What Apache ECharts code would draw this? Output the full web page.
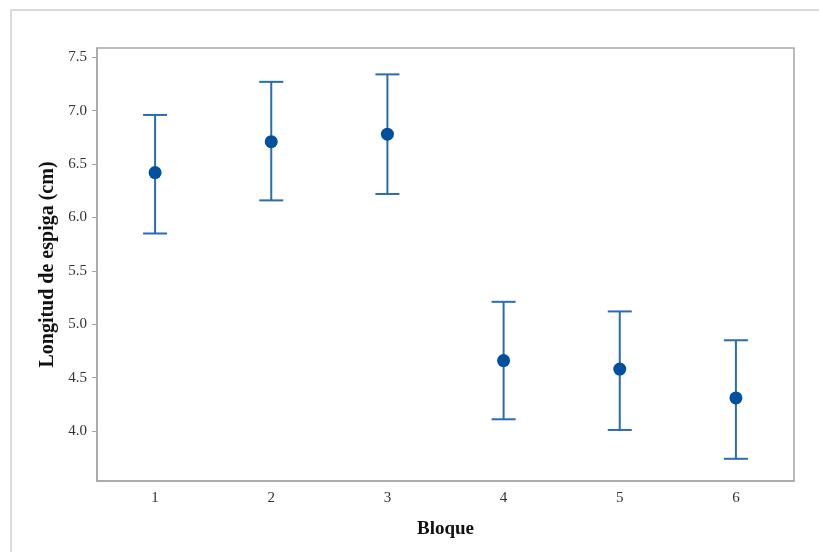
<!DOCTYPE html>
<html>
<head>
<meta charset="utf-8">
<script src="https://cdn.jsdelivr.net/npm/echarts@6/dist/echarts.min.js"></script>
<style>
html,body{margin:0;padding:0;background:#fff;}
#chart{width:819px;height:552px;}
</style>
</head>
<body>
<div id="chart"></div>
<script>
const categories = ['1', '2', '3', '4', '5', '6'];
const means = [6.42, 6.71, 6.78, 4.66, 4.58, 4.31];
const lower = [5.85, 6.16, 6.22, 4.11, 4.01, 3.74];
const upper = [6.96, 7.27, 7.34, 5.21, 5.12, 4.85];
const yTicks = [4.0, 4.5, 5.0, 5.5, 6.0, 6.5, 7.0, 7.5];

const serif = 'Liberation Serif';
const barColor = '#2a6cb4';
const dotColor = '#0050a0';
const axisGray = '#a6a6a6';

const errData = categories.map((c, i) => [i, lower[i], upper[i]]);

const chart = echarts.init(document.getElementById('chart'));
chart.setOption({
  animation: false,
  backgroundColor: '#fff',
  graphic: [{
    type: 'rect',
    shape: { x: 11, y: 10, width: 830, height: 560 },
    style: { fill: 'none', stroke: '#cfcfcf', lineWidth: 1.5 },
    silent: true, z: -10
  }],
  grid: {
    left: 97, top: 48, right: 25, bottom: 71,
    show: true, borderColor: axisGray, borderWidth: 1.5, backgroundColor: 'transparent'
  },
  xAxis: {
    type: 'category',
    data: categories,
    boundaryGap: true,
    name: 'Bloque',
    nameLocation: 'middle',
    nameGap: 39,
    nameTextStyle: { fontFamily: serif, fontWeight: 'bold', fontSize: 19, color: '#111' },
    axisLine: { lineStyle: { color: axisGray, width: 1.5 } },
    axisTick: { alignWithLabel: true, length: 5, lineStyle: { color: axisGray } },
    axisLabel: { fontFamily: serif, fontSize: 15, color: '#333', margin: 10 },
    splitLine: { show: false }
  },
  yAxis: {
    type: 'value',
    min: 3.532,
    max: 7.587,
    name: 'Longitud de espiga (cm)',
    nameLocation: 'middle',
    nameGap: 37,
    nameTextStyle: { fontFamily: serif, fontWeight: 'bold', fontSize: 20, color: '#111' },
    axisLine: { show: true, lineStyle: { color: axisGray, width: 1.5 } },
    axisTick: { show: true, length: 5, customValues: yTicks, lineStyle: { color: axisGray } },
    axisLabel: {
      fontFamily: serif, fontSize: 15, color: '#333', margin: 10,
      customValues: yTicks,
      formatter: v => v.toFixed(1)
    },
    splitLine: { show: false }
  },
  series: [
    {
      type: 'custom',
      data: errData,
      renderItem: function (params, api) {
        const x = api.value(0);
        const lo = api.coord([x, api.value(1)]);
        const hi = api.coord([x, api.value(2)]);
        const hw = 12;
        const style = { stroke: barColor, lineWidth: 2 };
        return {
          type: 'group',
          children: [
            { type: 'line', shape: { x1: lo[0], y1: lo[1], x2: hi[0], y2: hi[1] }, style },
            { type: 'line', shape: { x1: lo[0] - hw, y1: lo[1], x2: lo[0] + hw, y2: lo[1] }, style },
            { type: 'line', shape: { x1: hi[0] - hw, y1: hi[1], x2: hi[0] + hw, y2: hi[1] }, style }
          ]
        };
      },
      z: 2
    },
    {
      type: 'scatter',
      data: means,
      symbol: 'circle',
      symbolSize: 13,
      itemStyle: { color: dotColor, opacity: 1 },
      z: 3
    }
  ]
});
</script>
</body>
</html>
